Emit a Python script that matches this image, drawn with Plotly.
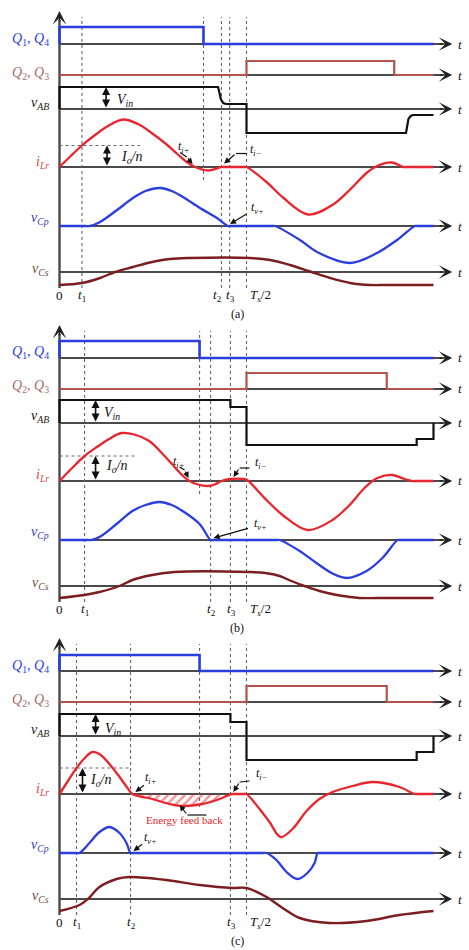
import plotly.graph_objects as go

# ---------------- time base: Ts/2 = 100, one switching period Ts = 200 ----------------
T_HALF = 100.0
T_END = 200.0

# event instants for the three operating modes (a), (b), (c)
T1 = [12.0, 13.4, 9.1]
T2 = [86.6, 80.8, 38.0]
T3 = [91.0, 91.4, 91.4]
T_Q14_OFF = [77.0, 74.9, 74.9]
T_Q23_OFF = [179.0, 175.0, 175.0]

# gate-signal heights and load-current level
Q14_HIGH = [17, 17, 16]
Q23_HIGH = [14, 16, 16]
IO_N = [21.5, 25, 26]

# bridge output voltage vAB
VAB_A_T = [0, 0, 84.8, 85.5, 86.3, 87.5, 89.0, 100, 100, 185.3, 185.9, 186.6, 187.8, 189.0, 200]
VAB_A_V = [0, 22, 22, 17, 10, 6, 5, 5, -24, -24, -17, -10, -7, -6, -6]
VAB_B_T = [0, 0, 91.4, 91.4, 100, 100, 191, 191, 200, 200]
VAB_B_V = [0, 23, 23, 16, 16, -22, -22, -16, -16, 0]
VAB_C_T = [0, 0, 91.4, 91.4, 100, 100, 191, 191, 200, 200]
VAB_C_V = [0, 22, 22, 14, 14, -24, -24, -16, -16, 0]

# resonant inductor current iLr
ILR_A_T = [0, 6, 12.0, 19, 26, 34.0, 42, 50, 57, 63, 68, 72.5, 79.4, 86.6, 88, 99, 100, 111,
           119.5, 133, 146.3, 155.4, 164.5, 170.4, 177.8, 183.7, 185, 200]
ILR_A_V = [0, 11, 21.5, 32, 41, 47.5, 43, 33, 23, 13, 5, 0, -3.5, 0, 0, 0, 0, -15.5,
           -30.5, -47.5, -37.5, -22.5, -5.5, 1.5, 4.5, 0, 0, 0]
ILR_B_T = [0, 6.5, 13.4, 20, 26.5, 33.2, 40, 48, 56.2, 62, 66, 69.5, 74, 79.1, 83, 86.6, 91.4,
           98.5, 100, 110.7, 119.3, 132.6, 146.0, 155.1, 163.1, 170.0, 178.0, 184.5, 188.8,
           190, 200]
ILR_B_V = [0, 12.5, 25, 34, 42, 48, 46.5, 40, 25, 13, 5, 0, -3.5, -5, -3.5, 0, 2,
           2, 1.5, -19, -34, -49, -39, -24, -7, 3, 6, 2, 0,
           0, 0]
ILR_C_T = [0, 4.5, 9.1, 13.5, 17.6, 22, 26.7, 32.1, 36.4, 39.0, 49.7, 58.8, 65.8, 76.5, 85.6,
           92.0, 93, 99, 100, 107.0, 112.3, 118.2, 124.6, 132.1, 139.0, 146.0, 156.7, 167.4,
           181.8, 189.9, 191, 200]
ILR_C_V = [0, 13, 26, 36, 42, 39, 30, 17, 6, 0, -5, -10, -12, -10, -5,
           0, 0, 0, 0, -15, -28, -43, -35, -17, -5, 2, 8, 12,
           7, 0, 0, 0]

# parallel capacitor voltage vCp
VCP_A_T = [0, 14, 16.3, 21.7, 30.8, 39.3, 46, 53.7, 60, 66.0, 75.1, 84.2, 90.0, 91, 114, 115.2,
           128.6, 137.7, 155.4, 169.8, 180.5, 190.1, 191.5, 200]
VCP_A_V = [0, 0, 0, 4, 16, 28, 35, 38, 35, 29, 18, 8, 0, 0, 0, 0,
           -14, -26, -37, -27, -14, 0, 0, 0]
VCP_B_T = [0, 15, 17.1, 21.4, 30.5, 39.0, 46, 53.5, 60, 65.8, 74.9, 80.8, 82, 116, 117.7, 128.4,
           137.4, 145.5, 153.5, 164.2, 172.7, 180.8, 182, 200]
VCP_B_V = [0, 0, 0, 3, 16, 29, 35, 38, 35, 29, 16, 0, 0, 0, 0, -11,
           -23, -33, -38, -31, -18, 0, 0, 0]
VCP_C_T = [0, 9, 10.7, 16.0, 21.4, 26.7, 32.1, 35.8, 38.0, 39, 109, 110.7, 116.0, 121.4, 127.3,
           132.6, 136.4, 138.0, 139, 200]
VCP_C_V = [0, 0, 0, 10, 21, 26, 20, 10, 0, 0, 0, 0, -7, -19, -26,
           -20, -10, 0, 0, 0]

# series capacitor voltage vCs
VCS_A_T = [0, 12, 21.7, 29.7, 39.3, 48.4, 59.1, 69.8, 101.9, 112.6, 123.3, 134.0, 144.7, 155.4,
           166.1, 175, 200]
VCS_A_V = [-13, -11, -6, 0, 5, 9.5, 13, 14, 14, 12, 7, 0.5, -6, -11, -13, -13, -13]
VCS_B_T = [0, 13.4, 21.4, 32.1, 39.0, 48.1, 61.5, 101.0, 110.0, 117.7, 124.0, 131.0, 139.0, 149.8,
           160.4, 170, 200]
VCS_B_V = [-12, -9, -6, 0, 6, 10.5, 14, 14, 13, 10, 5, 0, -5, -9.5, -12, -12, -12]
VCS_C_T = [0, 10.7, 15.2, 21.4, 30.5, 37.4, 57.2, 74.9, 92.5, 100, 110.7, 119.3, 128.4, 144.4,
           164.2, 181.8, 200]
VCS_C_V = [-12, -6, 0, 12, 20, 22, 19, 14, 11, 11, 2, -9, -19, -24, -22, -16, -12]

MODE_TAGS = ["(a)", "(b)", "(c)"]

# ---------------- drawing styles ----------------
SERIF = "Liberation Serif, 'Times New Roman', serif"
BLUE = "#2a3ee0"
BROWN = "#b4524e"
RED = "#e8262d"
MAROON = "#7c1d22"
BLACK = "#111111"
AXIS = "#4a4a4a"
DOT = "#666666"

# vertical stacking of the channels (units above the vCs axis, 1 unit = 1 px)
OFF = {"q14": 228, "q23": 197, "vab": 163, "ilr": 105, "vcp": 46, "vcs": 0}
CH_LABEL = {
    "q14": ("<i>Q</i><sub>1</sub>, <i>Q</i><sub>4</sub>", BLUE, 5),
    "q23": ("<i>Q</i><sub>2</sub>, <i>Q</i><sub>3</sub>", "#a66a68", 2),
    "vab": ("<i>v<sub>AB</sub></i>", "#222222", 6),
    "ilr": ("<i>i<sub>Lr</sub></i>", "#e04848", 5),
    "vcp": ("<i>v<sub>Cp</sub></i>", "#3040c8", 8),
    "vcs": ("<i>v<sub>Cs</sub></i>", "#6e4a4a", 3),
}

# page rows (top px, bottom px) and pixel row of the vCs axis for each panel
ROWS = [(0, 316, 272), (316, 632, 586), (632, 950, 899)]
PAGE_H = 950
PAGE_W = 469
PX_PER_T = 1.87
X0_PX = 59.5

VAB = [(VAB_A_T, VAB_A_V), (VAB_B_T, VAB_B_V), (VAB_C_T, VAB_C_V)]
ILR = [(ILR_A_T, ILR_A_V), (ILR_B_T, ILR_B_V), (ILR_C_T, ILR_C_V)]
VCP = [(VCP_A_T, VCP_A_V), (VCP_B_T, VCP_B_V), (VCP_C_T, VCP_C_V)]
VCS = [(VCS_A_T, VCS_A_V), (VCS_B_T, VCS_B_V), (VCS_C_T, VCS_C_V)]

# annotation placement per panel
VIN_ARROW_T = [24.9, 19.3, 19.3]
VIN_LABEL = [(29.7, 9), (22.5, 9), (23.0, 7)]
ION_ARROW_T = [25.4, 19.3, 12.3]
ION_LABEL = [(32.0, 9.5), (24.0, 14), (15.0, 14)]
ION_DOT_END = [43.0, 41.0, 37.4]
# (text, channel, label t, label v, leader points..., tip)
LEADERS = [
    [("<i>t<sub>i+</sub></i>", "ilr", 66.5, 20.5, [(64.5, 14.5), (68.0, 10.0)], (71.2, 3.0)),
     ("<i>t<sub>i−</sub></i>", "ilr", 104.8, 17.5, [(100.3, 13.5), (94.4, 13.5)], (88.0, 3.5)),
     ("<i>t<sub>v+</sub></i>", "vcp", 106.0, 18.0, [(100.8, 13.0)], (91.2, 2.0))],
    [("<i>t<sub>i+</sub></i>", "ilr", 63.7, 19.0, [(64.2, 14.0), (66.9, 11.0)], (69.0, 3.0)),
     ("<i>t<sub>i−</sub></i>", "ilr", 107.5, 18.0, [(101.6, 13.0), (96.3, 13.0)], (93.0, 4.0)),
     ("<i>t<sub>v+</sub></i>", "vcp", 107.5, 16.0, [(101.6, 12.0)], (82.4, 2.0))],
    [("<i>t<sub>i+</sub></i>", "ilr", 48.7, 16.0, [(46.0, 10.0)], (40.6, 2.0)),
     ("<i>t<sub>i−</sub></i>", "ilr", 108.0, 20.0, [(101.6, 13.0), (96.3, 12.0)], (93.0, 2.0)),
     ("<i>t<sub>v+</sub></i>", "vcp", 48.7, 15.0, [(45.0, 10.0)], (39.6, 2.0))],
]
TICK_NUDGE = [(0, 0, -2.0, 0.5), (0, 0, 0.5, 0.5), (0, 0, 0.5, 0.5)]

fig = go.Figure()
annotations = []


def axes_of(i):
    return ("x" if i == 0 else f"x{i + 1}", "y" if i == 0 else f"y{i + 1}")


def line(i, t, v, color, width, shape="linear", dash=None):
    xa, ya = axes_of(i)
    fig.add_trace(go.Scatter(
        x=t, y=v, xaxis=xa, yaxis=ya, mode="lines", hoverinfo="skip", showlegend=False,
        line=dict(color=color, width=width, shape=shape, smoothing=1.0, dash=dash)))


def text(i, t, v, s, size=13, color=BLACK, xanchor="center", yanchor="middle"):
    xa, ya = axes_of(i)
    annotations.append(dict(x=t, y=v, xref=xa, yref=ya, text=s, showarrow=False,
                            xanchor=xanchor, yanchor=yanchor,
                            font=dict(family=SERIF, size=size, color=color)))


def arrow(i, tail, tip, width=1.3, size=1.0, head=2, both=False, color=BLACK):
    xa, ya = axes_of(i)
    a = dict(x=tip[0], y=tip[1], ax=tail[0], ay=tail[1], xref=xa, yref=ya, axref=xa, ayref=ya,
             text="", showarrow=True, arrowhead=head, arrowsize=size, arrowwidth=width,
             arrowcolor=color, standoff=0, startstandoff=0)
    if both:
        a.update(arrowside="end+start", startarrowhead=head, startarrowsize=size)
    annotations.append(a)


for i in range(3):
    # ---- axes ----
    line(i, [0, 0], [-16, 252], AXIS, 2.4)
    arrow(i, (0, 249), (0, 261), width=1.6, size=1.4, head=3, color="#222222")
    for ch, off in OFF.items():
        line(i, [0, 205], [off, off], AXIS, 2.0)
        arrow(i, (202.5, off), (210.0, off), width=1.6, size=1.4, head=3, color="#222222")
        text(i, 214.3, off, "<i>t</i>", size=13)
        lab, col, dy = CH_LABEL[ch]
        text(i, -4.6, off + dy, lab, size=14, color=col, xanchor="right")

    # ---- event markers ----
    full = [T1[i], T2[i], T3[i], T_HALF]
    for te in full:
        line(i, [te, te], [-16, 255], DOT, 1.1, dash="dot")
    line(i, [T_Q14_OFF[i], T_Q14_OFF[i]], [OFF["ilr"] - 13, 255], DOT, 1.1, dash="dot")
    line(i, [0, ION_DOT_END[i]], [OFF["ilr"] + IO_N[i]] * 2, DOT, 1.1, dash="dot")

    # ---- gate signals ----
    line(i, [0, 0, T_Q14_OFF[i], T_Q14_OFF[i], T_END],
         [OFF["q14"] + v for v in (0, Q14_HIGH[i], Q14_HIGH[i], 0, 0)], BLUE, 2.6)
    line(i, [0, T_HALF, T_HALF, T_Q23_OFF[i], T_Q23_OFF[i], T_END],
         [OFF["q23"] + v for v in (0, 0, Q23_HIGH[i], Q23_HIGH[i], 0, 0)], BROWN, 2.2)

    # ---- analogue waveforms ----
    vt, vv = VAB[i]
    line(i, vt, [OFF["vab"] + v for v in vv], BLACK, 2.2)

    it, iv = ILR[i]
    if i == 2:
        # energy fed back to the source while iLr is negative between t2 and t3
        ht = [t for t in it if T2[i] + 0.9 <= t <= 92.0]
        hv = [OFF["ilr"] + v for t, v in zip(it, iv) if T2[i] + 0.9 <= t <= 92.0]
        xa, ya = axes_of(i)
        fig.add_trace(go.Scatter(
            x=ht, y=hv, xaxis=xa, yaxis=ya, mode="lines", fill="toself", hoverinfo="skip",
            showlegend=False, line=dict(width=0, shape="spline", color=RED),
            fillcolor="rgba(0,0,0,0)",
            fillpattern=dict(shape="/", fgcolor=RED, bgcolor="rgba(255,255,255,0)",
                             size=6, solidity=0.4)))
    line(i, it, [OFF["ilr"] + v for v in iv], RED, 2.3, shape="spline")

    ct, cv = VCP[i]
    line(i, ct, [OFF["vcp"] + v for v in cv], BLUE, 2.3, shape="spline")
    st, sv = VCS[i]
    line(i, st, [OFF["vcs"] + v for v in sv], MAROON, 2.4, shape="spline")

    # ---- amplitude arrows ----
    arrow(i, (VIN_ARROW_T[i], OFF["vab"]), (VIN_ARROW_T[i], OFF["vab"] + vv[1]),
          width=1.6, size=1.0, head=2, both=True)
    text(i, VIN_LABEL[i][0], OFF["vab"] + VIN_LABEL[i][1], "<i>V<sub>in</sub></i>",
         size=14, xanchor="left")
    arrow(i, (ION_ARROW_T[i], OFF["ilr"]), (ION_ARROW_T[i], OFF["ilr"] + IO_N[i]),
          width=1.6, size=1.0, head=2, both=True)
    text(i, ION_LABEL[i][0], OFF["ilr"] + ION_LABEL[i][1], "<i>I<sub>o</sub>/n</i>",
         size=14, xanchor="left")

    # ---- instant leaders ----
    for s, ch, lt, lv, pts, tip in LEADERS[i]:
        off = OFF[ch]
        text(i, lt, off + lv, s, size=12)
        if len(pts) > 1:
            line(i, [p[0] for p in pts], [off + p[1] for p in pts], BLACK, 1.2)
        arrow(i, (pts[-1][0], off + pts[-1][1]), (tip[0], off + tip[1]), width=1.2, size=1.0)

    # ---- time tick labels ----
    nz = TICK_NUDGE[i]
    yb = -23
    text(i, 0, yb, "0", size=13)
    text(i, T1[i] + nz[1], yb, "<i>t</i><sub>1</sub>", size=13)
    text(i, T2[i] + nz[2], yb, "<i>t</i><sub>2</sub>", size=13)
    text(i, T3[i] + nz[3], yb, "<i>t</i><sub>3</sub>", size=13)
    text(i, T_HALF + 0.6, yb, "<i>T<sub>s</sub></i>/2", size=13, xanchor="left")
    text(i, 95.0, -42, MODE_TAGS[i], size=12)

# Energy feed back note in mode (c)
text(2, 66.8, OFF["ilr"] - 26, "Energy feed back", size=11, color=RED)
line(2, [78.6, 68.4], [OFF["ilr"] - 21] * 2, BLACK, 1.2)
arrow(2, (68.4, OFF["ilr"] - 21), (64.2, OFF["ilr"] - 11), width=1.2, size=1.0)

# ---------------- layout ----------------
x_range = [-X0_PX / PX_PER_T, (PAGE_W - X0_PX) / PX_PER_T]
layout = dict(width=PAGE_W, height=PAGE_H, margin=dict(l=0, r=0, t=0, b=0),
              paper_bgcolor="white", plot_bgcolor="white", annotations=annotations,
              showlegend=False)
for i, (top, bot, base) in enumerate(ROWS):
    xa, ya = axes_of(i)
    xk = "xaxis" if i == 0 else f"xaxis{i + 1}"
    yk = "yaxis" if i == 0 else f"yaxis{i + 1}"
    layout[xk] = dict(range=x_range, domain=[0, 1], visible=False, anchor=ya, fixedrange=True)
    layout[yk] = dict(range=[-(bot - base), base - top],
                      domain=[1 - bot / PAGE_H, 1 - top / PAGE_H],
                      visible=False, anchor=xa, fixedrange=True)
fig.update_layout(**layout)

fig.write_html("out.html", config={"displayModeBar": False},
               post_script="document.body.style.margin='0';")
